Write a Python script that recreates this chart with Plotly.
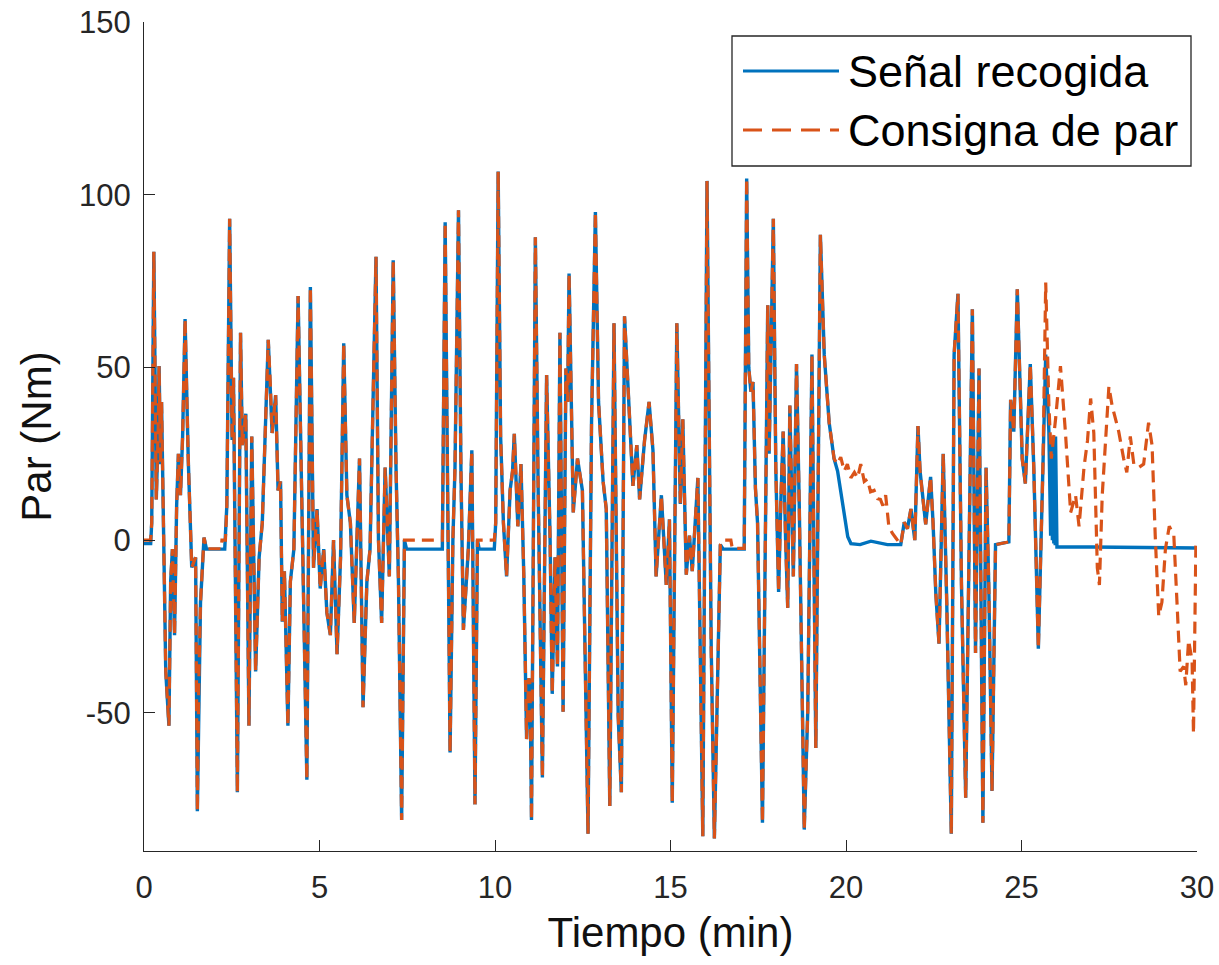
import plotly.graph_objects as go

# ---------------- data ----------------
# Start: signal slightly below zero, setpoint at zero
t_start = [0.00, 0.19]
v_start_sig = [-1.0, -1.0]
v_start_ref = [0.0, 0.0]

t_c1 = [0.22, 0.28, 0.35, 0.40, 0.43, 0.47, 0.50, 0.55, 0.62, 0.71, 0.76, 0.81, 0.87,
        0.93, 0.98, 1.04, 1.10, 1.17, 1.26, 1.36, 1.47, 1.52, 1.56, 1.61, 1.71]
v_c1 = [5, 83.5, 11.8, 30, 50.4, 22, 40, 10, -38, -53.7, -11.8, -2.6, -27.5,
        10, 25, 13, 30, 64, 23.6, -7.9, -5, -78.5, -42, -18, 0.7]

t_flatA_sig = [1.78, 2.30]
v_flatA_sig = [-2.6, -2.6]
t_flatA_ref = [1.78, 2.20, 2.22, 2.32]
v_flatA_ref = [-2.5, -2.5, 0.0, 0.0]

t_c2 = [2.36, 2.44, 2.51, 2.55, 2.66, 2.75, 2.80, 2.90, 2.99, 3.07, 3.18, 3.28, 3.37,
        3.54, 3.60, 3.65, 3.75, 3.82, 3.89, 3.94, 4.00, 4.10, 4.17, 4.27, 4.39, 4.50,
        4.64, 4.74, 4.83, 4.93, 5.02, 5.12, 5.21, 5.31, 5.40, 5.50, 5.60, 5.69, 5.78,
        5.88, 5.99, 6.14, 6.24, 6.35, 6.44, 6.61, 6.68, 6.77, 6.87, 6.99, 7.10, 7.18,
        7.25, 7.34, 7.42]
v_c2 = [10, 93, 29, 47, -73, 60, 27.5, 36.6, -53.7, 30, -38, -5, 5,
        58, 45, 31, 42, 14.4, 17, -23.6, -9, -53.7, -12, -2.6, 70.7, 8,
        -69.4, 73.3, -8, 9, -14, -2.6, -21, -27.5, 0, -33, -5, 57, 13,
        5, -24, 23.6, -48.4, -12, -2.6, 82, 0, -24, 21, -10.5, 81, 21,
        -12, -81, 0]

t_flatB = [7.48, 8.50]
v_flatB_sig = [-2.6, -2.6]
v_flatB_ref = [0.0, 0.0]

t_c3 = [8.58, 8.65, 8.72, 8.80, 8.86, 8.96, 9.03, 9.10, 9.24, 9.34, 9.43, 9.50]
v_c3 = [92, 20, -61.5, 0, 21, 95.5, 20, -26, -2.6, 26, -76.5, 0]

t_flatC = [9.55, 9.98]
v_flatC_sig = [-2.6, -2.6]
v_flatC_ref = [0.0, 0.0]

t_c4 = [10.02, 10.09, 10.16, 10.24, 10.33, 10.43, 10.50, 10.55, 10.60, 10.65, 10.74,
        10.82, 10.90, 10.96, 11.00, 11.04, 11.15, 11.23, 11.35, 11.47, 11.57, 11.63,
        11.71, 11.78, 11.85, 11.94, 12.02, 12.07, 12.11, 12.23, 12.35, 12.49, 12.65,
        12.75, 12.86, 12.95, 13.08, 13.17, 13.27, 13.39, 13.51, 13.60, 13.69, 13.79,
        13.93, 14.04, 14.12, 14.26, 14.39, 14.50, 14.59, 14.74, 14.88, 14.97, 15.05,
        15.18, 15.28, 15.35, 15.45, 15.54, 15.62, 15.78, 15.92, 16.04, 16.16, 16.25,
        16.35, 16.42]
v_c4 = [5, 106.7, 30, 5, -10.5, 14.4, 20, 30.8, 18, 4, 22,
        -10, -57.6, -40, -42, -81, 87.7, 14.4, -68.7, 47.8, 0, -44.5,
        -5, -36.6, 60, -49.7, 49.7, 40, 77.2, 8, 23.6, 14.4, -85,
        34, 95, 40, 17, 9, -77, 62.8, -51, -73, 64.8, 44.5,
        15.7, 27.5, 11.8, 28.8, 40, 26, -10.5, 13, -13, 6, -76,
        62.8, 10.5, 35, -10, 1.3, -9, 18, -85.7, 104, -31.4, -86.4,
        -30, -1.3]

t_flatD_sig = [16.50, 17.10]
v_flatD_sig = [-2.6, -2.6]
t_flatD_ref = [16.48, 16.72, 16.76, 17.10]
v_flatD_ref = [0.0, 0.0, -2.4, -2.4]

t_c5 = [17.17, 17.23, 17.29, 17.35, 17.42, 17.48, 17.62, 17.77, 17.81, 17.93, 18.00,
        18.08, 18.14, 18.21, 18.28, 18.34, 18.40, 18.50, 18.59, 18.67, 18.81, 18.91,
        19.03, 19.14, 19.27, 19.38, 19.52, 19.66]
v_c5 = [104.7, 50, 43, 45.8, 15, 5, -81.8, 68, 25, 93, 21,
        -15, 10, 31.4, 0, -19.6, 39, -10.5, 51, 9, -83.8, -49.7,
        53.7, -60.2, 88.4, 53.7, 34, 23.6]

# Section where the measured signal drops to zero while the setpoint decays
t_div1_sig = [19.76, 19.90, 20.05, 20.14, 20.40, 20.71, 21.18, 21.56]
v_div1_sig = [20, 10, 1, -1, -1.3, -0.3, -1.3, -1.3]
t_div1_ref = [19.75, 19.85, 19.95, 20.04, 20.14, 20.24, 20.33, 20.42, 20.52, 20.61,
              20.70, 20.80, 20.90, 20.98, 21.05, 21.13, 21.22, 21.32, 21.42, 21.56]
v_div1_ref = [22, 24, 20, 22, 18, 19.6, 18, 22, 17, 17.7,
              14, 14.4, 12, 11.8, 10, 13, 4, 2, 0.6, -1.3]

t_c6 = [21.66, 21.75, 21.85, 21.96, 22.05, 22.11, 22.18, 22.27, 22.41, 22.48, 22.56,
        22.65, 22.77, 22.87, 23.00, 23.08, 23.19, 23.29, 23.41, 23.50, 23.60, 23.69,
        23.79, 23.90, 23.99, 24.07, 24.16, 24.26, 24.64, 24.69, 24.78, 24.88, 25.02,
        25.11, 25.25, 25.35, 25.48, 25.61]
v_c6 = [5.2, 3.3, 9, 0, 33, 20, 13, 4.6, 18.3, 5, -15.7,
        -30, 25, -18, -85, 53.7, 71.3, -13, -74.6, 1.3, 66.8, -32.7,
        49.7, -81.8, 21, -14.4, -72.6, -1.3, -0.5, 40.6, 31.4, 72.6, 23.6,
        16.4, 51, 21, -31.4, 21]

# Final section: signal stops, setpoint keeps varying
t_tail_sig = [25.69, 25.78, 25.83, 25.86, 25.88, 25.90, 25.92, 25.94, 25.96, 25.97,
              26.01, 27.00, 30.00]
v_tail_sig = [53.7, 31.4, 1.3, 28, 0, 30, -1, 25, -1.5, 30,
              -2, -2, -2.3]
t_tail_ref = [25.69, 25.78, 25.85, 25.97, 26.11, 26.25, 26.40, 26.54, 26.64, 26.78,
              26.88, 26.97, 27.06, 27.16, 27.22, 27.30, 27.39, 27.49, 27.58, 27.77,
              27.91, 28.00, 28.10, 28.20, 28.34, 28.48, 28.62, 28.72, 28.81, 28.91,
              29.00, 29.10, 29.21, 29.34, 29.43, 29.52, 29.62, 29.68, 29.76, 29.86,
              29.90, 29.97]
v_tail_ref = [74.6, 39, 23.6, 35, 50.4, 31.4, 8, 13, 4, 21,
              28.8, 41, 31, -8, -13, 13, 27.5, 44.5, 39, 31.4,
              23.6, 19.6, 30, 22, 21, 22, 34, 27.5, 1.3, -22,
              -18, -2.6, 4, 1.3, -18, -38, -36.6, -42, -29, -35,
              -56, 0]

x_ticks = [0, 5, 10, 15, 20, 25, 30]
x_tick_text = ["0", "5", "10", "15", "20", "25", "30"]
y_ticks = [-50, 0, 50, 100, 150]
y_tick_text = ["-50", "0", "50", "100", "150"]

name_sig = "Señal recogida"
name_ref = "Consigna de par"

# ---------------- assemble series ----------------
t_sig = (t_start + t_c1 + t_flatA_sig + t_c2 + t_flatB + t_c3 + t_flatC + t_c4
         + t_flatD_sig + t_c5 + t_div1_sig + t_c6 + t_tail_sig)
v_sig = (v_start_sig + v_c1 + v_flatA_sig + v_c2 + v_flatB_sig + v_c3 + v_flatC_sig + v_c4
         + v_flatD_sig + v_c5 + v_div1_sig + v_c6 + v_tail_sig)
t_ref = (t_start + t_c1 + t_flatA_ref + t_c2 + t_flatB + t_c3 + t_flatC + t_c4
         + t_flatD_ref + t_c5 + t_div1_ref + t_c6 + t_tail_ref)
v_ref = (v_start_ref + v_c1 + v_flatA_ref + v_c2 + v_flatB_ref + v_c3 + v_flatC_ref + v_c4
         + v_flatD_ref + v_c5 + v_div1_ref + v_c6 + v_tail_ref)

BLUE = "#0072BD"
ORANGE = "#D95319"
AX = "#262626"
FONT = "Liberation Sans, Arial, sans-serif"

fig = go.Figure()
fig.add_trace(go.Scatter(x=t_sig, y=v_sig, mode="lines", name=name_sig,
                         line=dict(color=BLUE, width=3.4), showlegend=False))
fig.add_trace(go.Scatter(x=t_ref, y=v_ref, mode="lines", name=name_ref,
                         line=dict(color=ORANGE, width=3.2, dash="12px,7px"), showlegend=False))

# ---------------- layout ----------------
L, R, T, B = 144, 22, 22, 114
W, H = 1219, 965
pw, ph = W - L - R, H - T - B

def px2x(px):
    return (px - L) / pw

def py2y(py):
    return (H - B - py) / ph

fig.update_layout(
    width=W, height=H,
    margin=dict(l=L, r=R, t=T, b=B, autoexpand=False),
    paper_bgcolor="white", plot_bgcolor="white",
    font=dict(family=FONT, color=AX),
    xaxis=dict(range=[0, 30], tickvals=x_ticks, ticktext=x_tick_text, ticks="inside", ticklen=11,
               tickcolor=AX, tickwidth=1, showline=True, linecolor=AX, linewidth=1.3,
               showgrid=False, zeroline=False, mirror=False, automargin=False,
               tickfont=dict(size=31, color=AX, family=FONT), ticklabelstandoff=9,
               title=dict(text="Tiempo (min)", font=dict(size=42, color="#111", family=FONT),
                          standoff=13)),
    yaxis=dict(range=[-90, 150], tickvals=y_ticks, ticktext=y_tick_text, ticks="inside", ticklen=11,
               tickcolor=AX, tickwidth=1, showline=True, linecolor=AX, linewidth=1.3,
               showgrid=False, zeroline=False, mirror=False, automargin=False,
               tickfont=dict(size=31, color=AX, family=FONT), ticklabelstandoff=6,
               title=dict(text="Par (Nm)", font=dict(size=42, color="#111", family=FONT),
                          standoff=14)),
    showlegend=False,
)

# manual MATLAB-style legend box
fig.add_shape(type="rect", xref="paper", yref="paper",
              x0=px2x(732), x1=px2x(1191), y0=py2y(166), y1=py2y(36),
              line=dict(color=AX, width=1.3), fillcolor="white", layer="above")
fig.add_shape(type="line", xref="paper", yref="paper",
              x0=px2x(743), x1=px2x(839), y0=py2y(71), y1=py2y(71),
              line=dict(color=BLUE, width=3.2), layer="above")
fig.add_shape(type="line", xref="paper", yref="paper",
              x0=px2x(743), x1=px2x(839), y0=py2y(130), y1=py2y(130),
              line=dict(color=ORANGE, width=3.2, dash="19px,10px"), layer="above")
fig.add_annotation(xref="paper", yref="paper", x=px2x(846), y=py2y(71),
                   text=name_sig, showarrow=False, xanchor="left", yanchor="middle",
                   font=dict(size=45, color="#000", family=FONT))
fig.add_annotation(xref="paper", yref="paper", x=px2x(846), y=py2y(130),
                   text=name_ref, showarrow=False, xanchor="left", yanchor="middle",
                   font=dict(size=45, color="#000", family=FONT))

fig.write_html("out.html", config={"displayModeBar": False},
               post_script="document.body.style.margin='0';document.body.style.overflow='hidden';")
